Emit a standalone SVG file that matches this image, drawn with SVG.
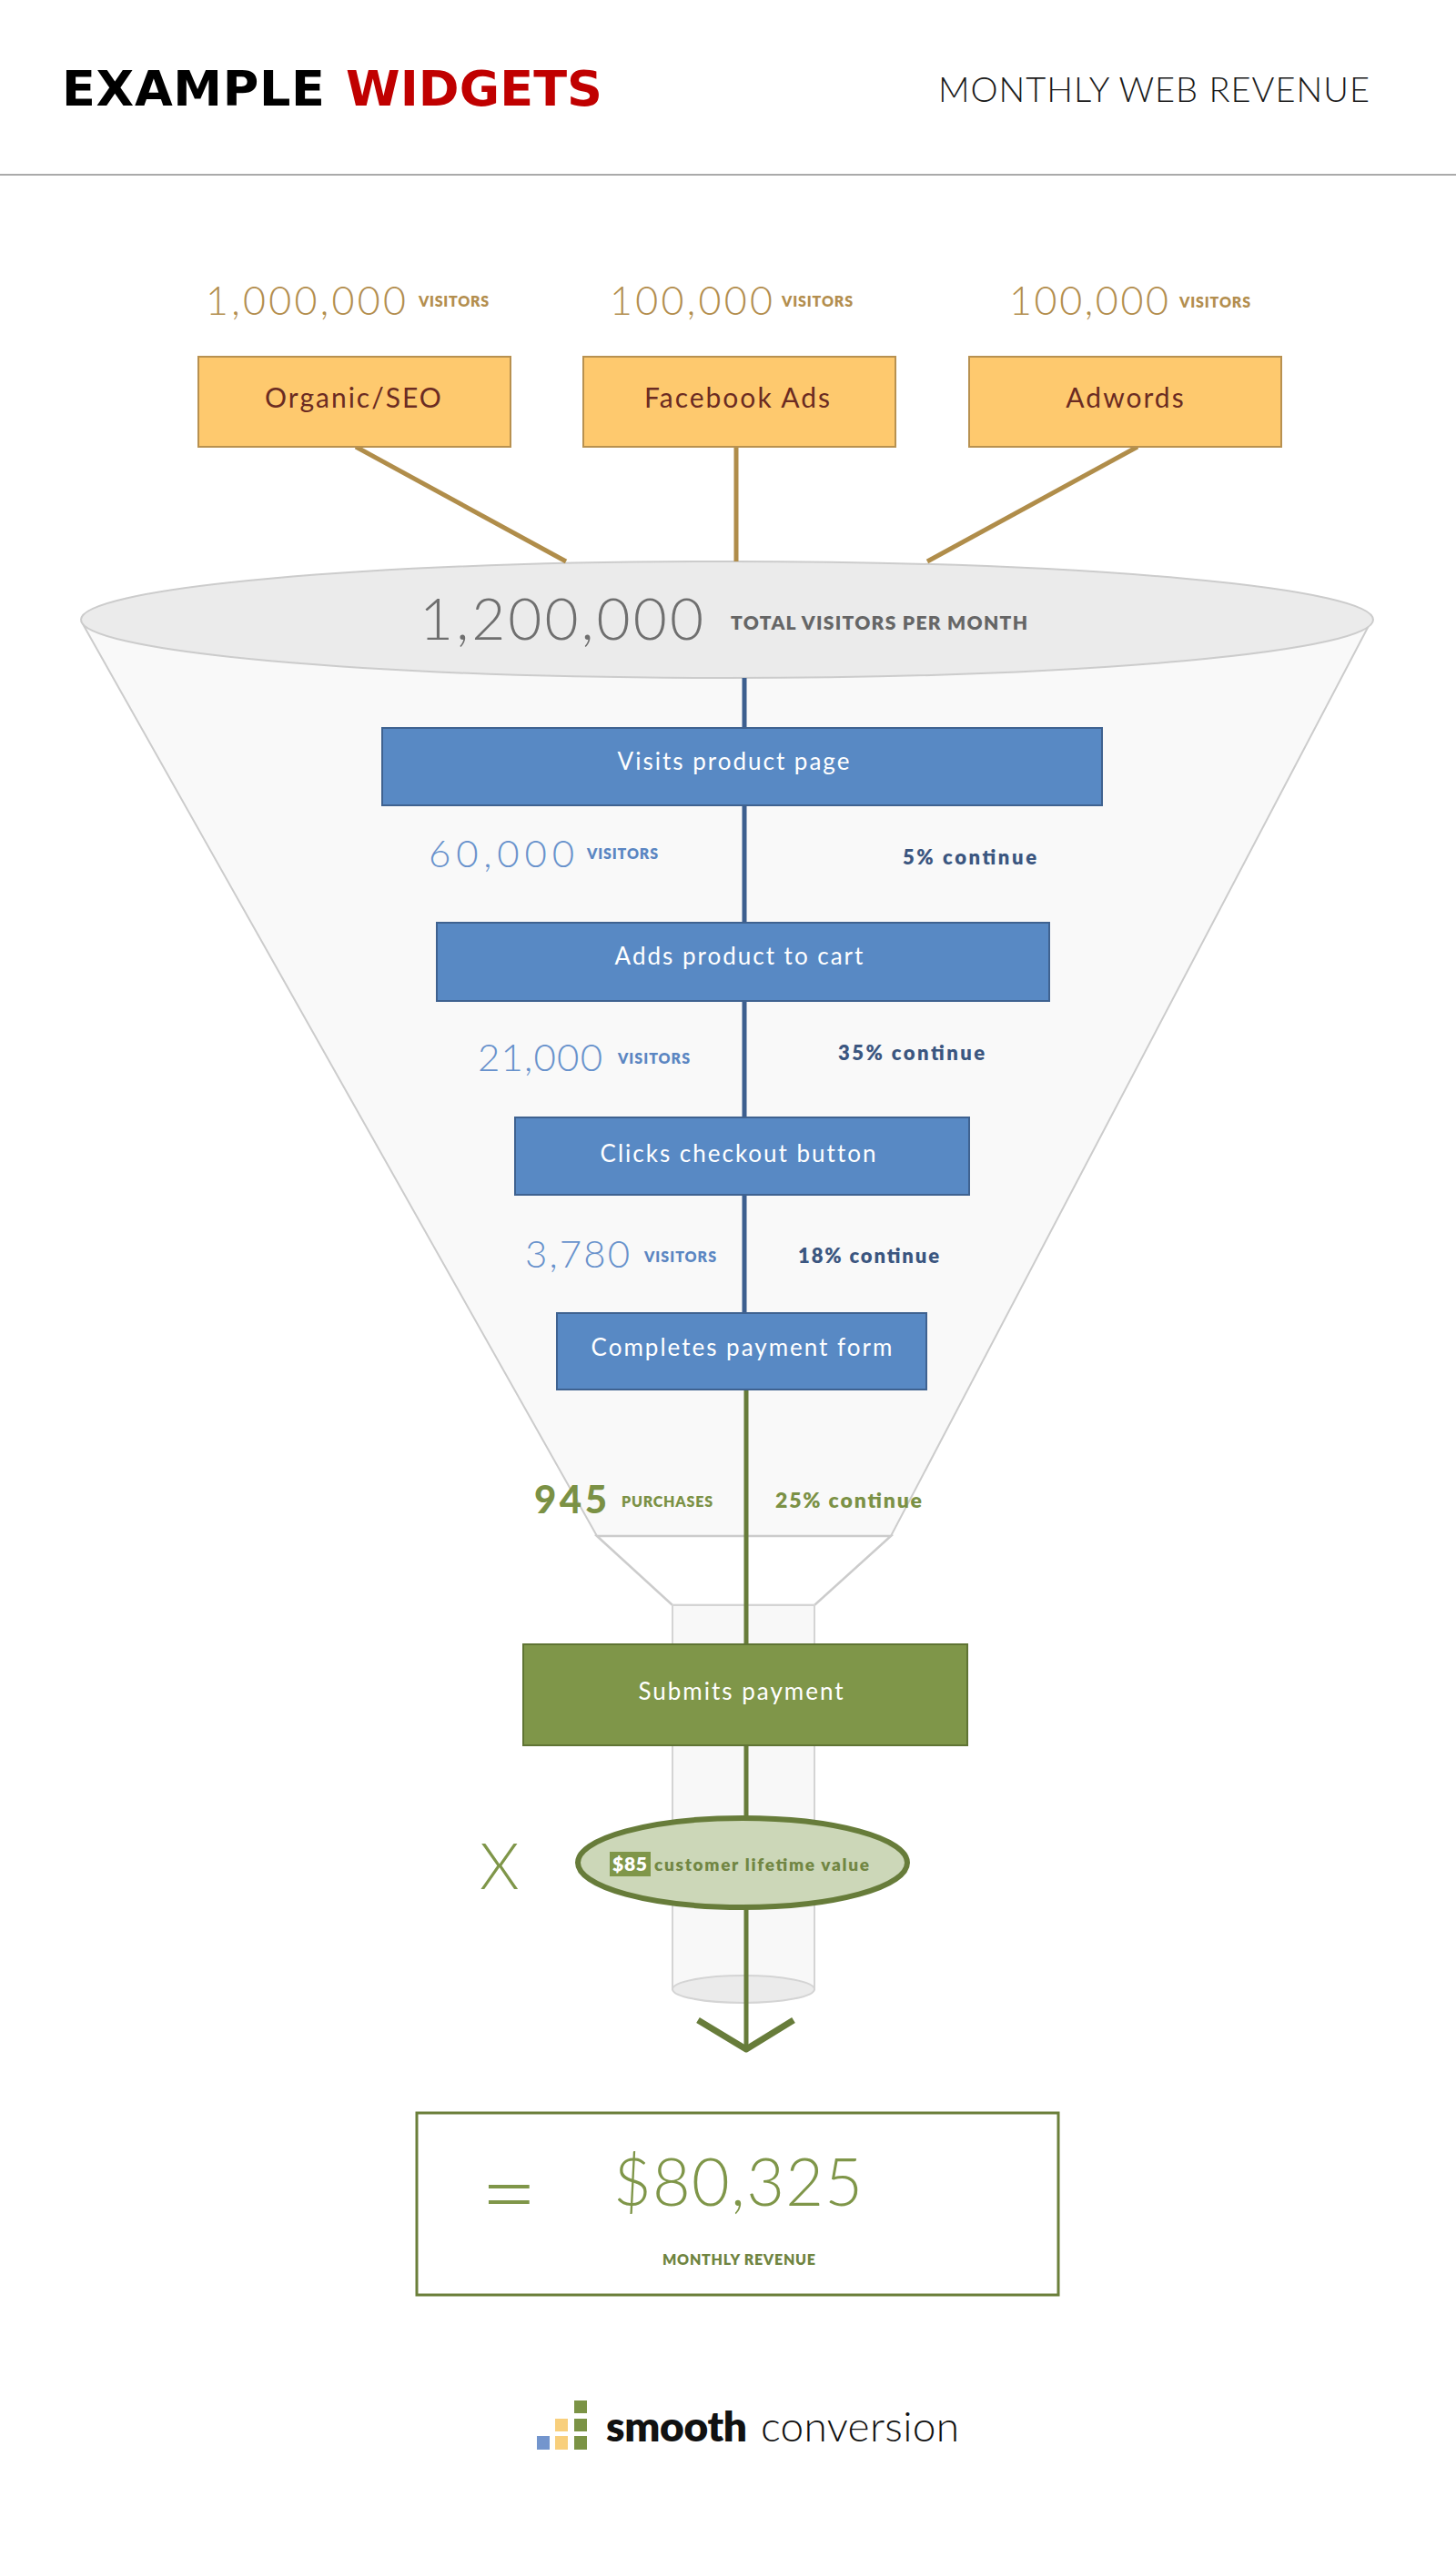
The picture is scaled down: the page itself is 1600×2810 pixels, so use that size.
<svg xmlns="http://www.w3.org/2000/svg" width="1600" height="2810" viewBox="0 0 1600 2810">
<style>
.thin{font-family:Lato,"Open Sans","Liberation Sans",sans-serif;font-weight:300}
.reg{font-family:Lato,"Open Sans","Liberation Sans",sans-serif;font-weight:400}
.bold{font-family:Lato,"Open Sans","Liberation Sans",sans-serif;font-weight:800}
.tan{fill:#b38e4e}
.gray{fill:#6f6f6f}
.bnum{fill:#6892cc}
.blbl{fill:#5b86c2}
.bcont{fill:#3b5680}
.grn{fill:#7b9145}
.srcbox{fill:#fec96e;stroke:#b89150;stroke-width:2}
.srctxt{font-family:Lato,"Open Sans","Liberation Sans",sans-serif;font-size:30px;fill:#6b2b22;letter-spacing:2px}
.stepbox{fill:#5889c4;stroke:#3f6290;stroke-width:2}
.steptxt{font-family:Lato,"Open Sans","Liberation Sans",sans-serif;font-size:26px;fill:#ffffff;letter-spacing:2px}
.num{font-size:43px}
.vis{font-size:16px}
.cont{font-size:22px}
</style>
<rect x="0" y="0" width="1600" height="2810" fill="#ffffff"/>

<g id="header">
<text x="68" y="116" font-family="'DejaVu Sans','Liberation Sans',sans-serif" font-weight="bold" font-size="54" fill="#000000" textLength="289">EXAMPLE</text>
<text x="380" y="116" font-family="'DejaVu Sans','Liberation Sans',sans-serif" font-weight="bold" font-size="54" fill="#c00000" textLength="282">WIDGETS</text>
<text x="1031" y="112" class="thin" font-size="38" fill="#1a1a1a" textLength="474">MONTHLY WEB REVENUE</text>
<line x1="0" y1="192" x2="1600" y2="192" stroke="#aaaaaa" stroke-width="2"/>
</g>

<g id="funnel">
<polygon points="90,684 656,1688 979,1688 1506,684" fill="#f9f9f9" stroke="#cccccc" stroke-width="2"/>
<ellipse cx="799" cy="681" rx="710" ry="64" fill="#ebebeb" stroke="#cccccc" stroke-width="2"/>
<polygon points="656,1688 739,1764 895,1764 979,1688" fill="#ffffff" stroke="#cccccc" stroke-width="2.5"/>
<rect x="739" y="1764" width="156" height="422" fill="#f8f8f8" stroke="#d4d4d4" stroke-width="2"/>
<ellipse cx="817" cy="2186" rx="78" ry="15" fill="#ebebeb" stroke="#d4d4d4" stroke-width="2"/>
</g>

<g id="connectors" fill="none">
<line x1="391" y1="491" x2="622" y2="617" stroke="#b08d4a" stroke-width="5"/>
<line x1="809" y1="491" x2="809" y2="617" stroke="#b08d4a" stroke-width="5"/>
<line x1="1250" y1="491" x2="1019" y2="617" stroke="#b08d4a" stroke-width="5"/>
<line x1="818" y1="745" x2="818" y2="1443" stroke="#3d5f8f" stroke-width="5"/>
<line x1="820" y1="1527" x2="820" y2="2250" stroke="#677c3a" stroke-width="5"/>
<polyline points="767,2220 820,2252 872,2220" stroke="#677c3a" stroke-width="7" stroke-linejoin="round"/>
</g>

<g id="total-visitors">
<text x="461" y="703" class="thin gray" font-size="64" textLength="312">1,200,000</text>
<text x="803" y="692" class="bold" font-size="21" fill="#666666" textLength="326">TOTAL VISITORS PER MONTH</text>
</g>

<g id="src-organic">
<text x="226" y="346" class="thin tan num" textLength="220">1,000,000</text>
<text x="460" y="337" class="bold tan vis" textLength="77">VISITORS</text>
<rect x="218" y="392" width="343" height="99" class="srcbox"/>
<text x="389" y="448" class="srctxt" text-anchor="middle">Organic/SEO</text>
</g>
<g id="src-facebook">
<text x="670" y="346" class="thin tan num" textLength="179">100,000</text>
<text x="859" y="337" class="bold tan vis" textLength="78">VISITORS</text>
<rect x="641" y="392" width="343" height="99" class="srcbox"/>
<text x="811" y="448" class="srctxt" text-anchor="middle">Facebook Ads</text>
</g>
<g id="src-adwords">
<text x="1109" y="346" class="thin tan num" textLength="175">100,000</text>
<text x="1296" y="338" class="bold tan vis" textLength="78">VISITORS</text>
<rect x="1065" y="392" width="343" height="99" class="srcbox"/>
<text x="1237" y="448" class="srctxt" text-anchor="middle">Adwords</text>
</g>

<g id="step-visits">
<rect x="420" y="800" width="791" height="85" class="stepbox"/>
<text x="807" y="846" class="steptxt" text-anchor="middle">Visits product page</text>
<text x="471" y="953" class="thin bnum" font-size="42" textLength="160">60,000</text>
<text x="645" y="944" class="bold blbl vis" textLength="78">VISITORS</text>
<text x="992" y="950" class="bold bcont cont" textLength="147">5% continue</text>
</g>
<g id="step-cart">
<rect x="480" y="1014" width="673" height="86" class="stepbox"/>
<text x="813" y="1060" class="steptxt" text-anchor="middle">Adds product to cart</text>
<text x="525" y="1177" class="thin bnum" font-size="42" textLength="137">21,000</text>
<text x="679" y="1169" class="bold blbl vis" textLength="79">VISITORS</text>
<text x="921" y="1165" class="bold bcont cont" textLength="161">35% continue</text>
</g>
<g id="step-checkout">
<rect x="566" y="1228" width="499" height="85" class="stepbox"/>
<text x="812" y="1277" class="steptxt" text-anchor="middle">Clicks checkout button</text>
<text x="577" y="1393" class="thin bnum" font-size="42" textLength="115">3,780</text>
<text x="708" y="1387" class="bold blbl vis" textLength="79">VISITORS</text>
<text x="877" y="1388" class="bold bcont cont" textLength="155">18% continue</text>
</g>
<g id="step-payment-form">
<rect x="612" y="1443" width="406" height="84" class="stepbox"/>
<text x="816" y="1490" class="steptxt" text-anchor="middle">Completes payment form</text>
<text x="587" y="1663" class="grn" font-family="Lato,'Liberation Sans',sans-serif" font-weight="900" font-size="42" textLength="80">945</text>
<text x="683" y="1656" class="bold grn vis" textLength="100">PURCHASES</text>
<text x="852" y="1657" class="bold grn" font-size="23" textLength="161">25% continue</text>
</g>
<g id="step-submit">
<rect x="575" y="1807" width="488" height="111" fill="#7f9649" stroke="#5f7434" stroke-width="2"/>
<text x="815" y="1868" class="steptxt" text-anchor="middle">Submits payment</text>
</g>
<g id="clv">
<text x="527" y="2076" fill="#7f9649" font-family="Lato,'Liberation Sans',sans-serif" font-weight="300" font-size="70">X</text>
<ellipse cx="816" cy="2047" rx="181" ry="49" fill="#ccd7b8" stroke="#677c3a" stroke-width="6"/>
<rect x="670" y="2035" width="45" height="27" fill="#7f9649"/>
<text x="692" y="2056" class="bold" font-size="21" fill="#ffffff" text-anchor="middle" textLength="38">$85</text>
<text x="719" y="2056" class="bold" font-size="19" fill="#718643" textLength="236">customer lifetime value</text>
</g>
<g id="revenue">
<rect x="458" y="2322" width="705" height="200" fill="#ffffff" stroke="#6b7f3a" stroke-width="3"/>
<text x="528" y="2448" class="thin" font-size="108" fill="#7f9649">=</text>
<text x="674" y="2424" class="thin" font-size="72" fill="#7f9649" textLength="274">$80,325</text>
<text x="728" y="2489" class="bold" font-size="16" fill="#6f8440" textLength="168">MONTHLY REVENUE</text>
</g>
<g id="logo">
<rect x="590" y="2677" width="14" height="15" fill="#7395cd"/>
<rect x="610" y="2658" width="14" height="14" fill="#f8cf7c"/>
<rect x="610" y="2677" width="14" height="15" fill="#f8cf7c"/>
<rect x="631" y="2638" width="14" height="14" fill="#7b9345"/>
<rect x="631" y="2658" width="14" height="14" fill="#7b9345"/>
<rect x="631" y="2677" width="14" height="15" fill="#7b9345"/>
<text x="666" y="2683" class="bold" font-size="46" fill="#111111" textLength="155">smooth</text>
<text x="836" y="2683" class="thin" font-size="46" fill="#111111" textLength="218">conversion</text>
</g>
</svg>
